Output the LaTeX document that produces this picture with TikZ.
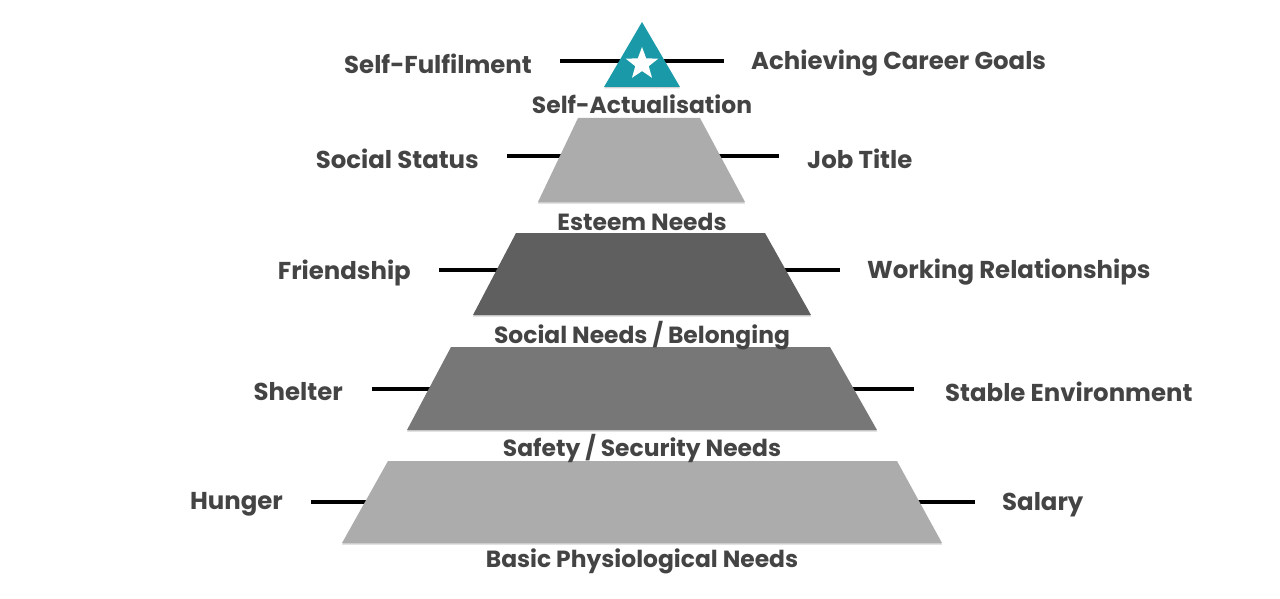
\documentclass[tikz,border=0pt]{standalone}
\usepackage{fontspec}
\setmainfont{Poppins}
\usetikzlibrary{
    positioning,
    shapes.geometric,
    shadows
}
\definecolor{level teal}{HTML}{1A9AA8}
\definecolor{level light}{HTML}{ACACAC}
\definecolor{level dark}{HTML}{5F5F5F}
\definecolor{level mid}{HTML}{777777}
\definecolor{label grey}{HTML}{444444}
\tikzset{
    % Levels
    level shape/.style={draw=none, fill=#1, drop shadow={shadow xshift=0pt, shadow yshift=-1.5pt, opacity=.35}},
    %
    % Texts
    side label/.style={font=\fontsize{24.4}{28}\selectfont\bfseries, text=label grey, inner sep=0pt, yshift=-2.5pt},
    left label/.style={side label, anchor=east},
    right label/.style={side label, anchor=west},
    level label/.style={side label, font=\fontsize{23.4}{26}\selectfont\bfseries},
    %
    % Connectors
    tie/.style={line width=3.6pt, black}
}

\begin{document}
\begin{tikzpicture}[x=1pt, y=-1pt]
    \useasboundingbox (0,0) rectangle (1280,599);
    % connector ends
    \coordinate (top-l) at (560,61);   \coordinate (top-r) at (724,61);
    \coordinate (est-l) at (507,156);  \coordinate (est-r) at (779,156);
    \coordinate (soc-l) at (439,270);  \coordinate (soc-r) at (840,270);
    \coordinate (saf-l) at (372,389);  \coordinate (saf-r) at (914,389);
    \coordinate (bas-l) at (311,502);  \coordinate (bas-r) at (975,502);
    \draw[tie] (top-l) -- (top-r);
    \draw[tie] (est-l) -- (est-r);
    \draw[tie] (soc-l) -- (soc-r);
    \draw[tie] (saf-l) -- (saf-r);
    \draw[tie] (bas-l) -- (bas-r);

    % pyramid
    \fill[level shape=level teal] (642,22) -- (680,87) -- (604,87) -- cycle;
    \node[star, star points=5, star point ratio=2.4, fill=white, minimum size=34pt, inner sep=0pt] (star) at (642,64) {};
    \fill[level shape=level light] (578,118) -- (700,118) -- (745,202) -- (538,202) -- cycle;
    \fill[level shape=level dark] (516,233) -- (765,233) -- (811,315) -- (473,315) -- cycle;
    \fill[level shape=level mid] (451,347) -- (830,347) -- (877,430) -- (407,430) -- cycle;
    \fill[level shape=level light] (388,461) -- (897,461) -- (942,543) -- (342,543) -- cycle;

    % level names
    \node[level label] (actual) at (642,102) {Self-Actualisation};
    \node[level label] (esteem) at (642,219) {Esteem Needs};
    \node[level label] (social) at (642,333) {Social Needs / Belonging};
    \node[level label] (safety) at (642,446) {Safety / Security Needs};
    \node[level label] (basic) at (642,559) {Basic Physiological Needs};

    % side texts
    \node[left label] (fulfil) at (532,61) {Self-Fulfilment};
    \node[right label] (career) at (751,61) {Achieving Career Goals};
    \node[left label] (status) at (479,156) {Social Status};
    \node[right label] (title) at (807,156) {Job Title};
    \node[left label] (friend) at (411,270) {Friendship};
    \node[right label] (working) at (867,270) {Working Relationships};
    \node[left label] (shelter) at (343,389) {Shelter};
    \node[right label] (stable) at (945,389) {Stable Environment};
    \node[left label] (hunger) at (283,502) {Hunger};
    \node[right label] (salary) at (1002,502) {Salary};
\end{tikzpicture}
\end{document}
